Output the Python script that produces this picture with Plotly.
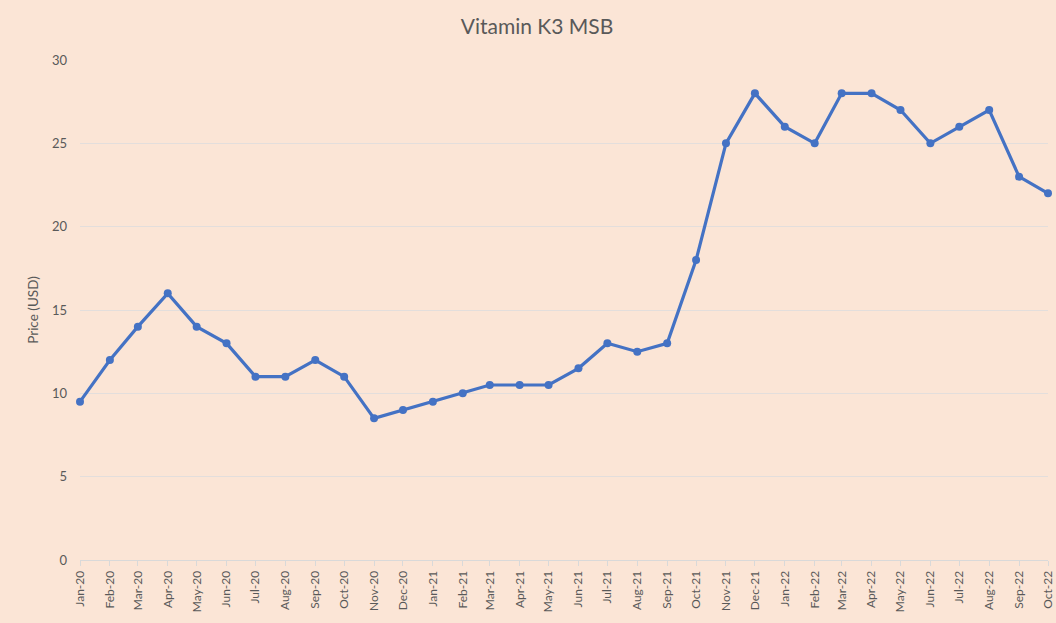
import plotly.graph_objects as go

months = ["2020-01-01", "2020-02-01", "2020-03-01", "2020-04-01", "2020-05-01", "2020-06-01",
          "2020-07-01", "2020-08-01", "2020-09-01", "2020-10-01", "2020-11-01", "2020-12-01",
          "2021-01-01", "2021-02-01", "2021-03-01", "2021-04-01", "2021-05-01", "2021-06-01",
          "2021-07-01", "2021-08-01", "2021-09-01", "2021-10-01", "2021-11-01", "2021-12-01",
          "2022-01-01", "2022-02-01", "2022-03-01", "2022-04-01", "2022-05-01", "2022-06-01",
          "2022-07-01", "2022-08-01", "2022-09-01", "2022-10-01"]
month_labels = ["Jan-20", "Feb-20", "Mar-20", "Apr-20", "May-20", "Jun-20", "Jul-20", "Aug-20",
                "Sep-20", "Oct-20", "Nov-20", "Dec-20", "Jan-21", "Feb-21", "Mar-21", "Apr-21",
                "May-21", "Jun-21", "Jul-21", "Aug-21", "Sep-21", "Oct-21", "Nov-21", "Dec-21",
                "Jan-22", "Feb-22", "Mar-22", "Apr-22", "May-22", "Jun-22", "Jul-22", "Aug-22",
                "Sep-22", "Oct-22"]
price = [9.5, 12, 14, 16, 14, 13, 11, 11, 12, 11, 8.5, 9, 9.5, 10, 10.5, 10.5, 10.5, 11.5,
         13, 12.5, 13, 18, 25, 28, 26, 25, 28, 28, 27, 25, 26, 27, 23, 22]
y_ticks = [0, 5, 10, 15, 20, 25, 30]

bg = "#FBE5D6"
txt = "#595959"
font_family = "Lato, 'Open Sans', sans-serif"

fig = go.Figure()
fig.add_trace(go.Scatter(
    x=months, y=price, mode="lines+markers",
    line=dict(color="#4472C4", width=3.2),
    marker=dict(color="#4472C4", size=8),
    cliponaxis=False,
    showlegend=False,
))

fig.update_layout(
    width=1056, height=623,
    paper_bgcolor=bg, plot_bgcolor=bg,
    margin=dict(l=80, r=8, t=60, b=63, autoexpand=False),
    font=dict(family=font_family, color=txt, size=12),
    title=dict(text="Vitamin K3 MSB", x=537 / 1056, xanchor="center", y=1 - 27 / 623, yanchor="middle",
               yref="container", font=dict(size=21, color=txt, family=font_family)),
    xaxis=dict(
        type="date", range=["2020-01-01", "2022-10-01"],
        tickvals=months, ticktext=month_labels, tickangle=-90,
        showgrid=False, showline=True, linecolor="#D9D9D9", linewidth=1,
        ticks="outside", ticklen=5, tickcolor="#D9D9D9",
        tickfont=dict(size=12, color=txt), zeroline=False,
        ticklabeloverflow="allow",
    ),
    yaxis=dict(
        range=[0, 30], tickvals=y_ticks, showgrid=True, gridcolor="#E3DEDC", gridwidth=1,
        zeroline=False, showline=False, ticks="", ticklabelstandoff=12,
        tickfont=dict(size=13, color=txt),
        title=dict(text="Price (USD)", font=dict(size=13.5, color=txt), standoff=10),
    ),
)

fig.write_html("out.html", config={"displayModeBar": False},
               post_script="document.body.style.margin='0';document.body.style.background='#FBE5D6';")
